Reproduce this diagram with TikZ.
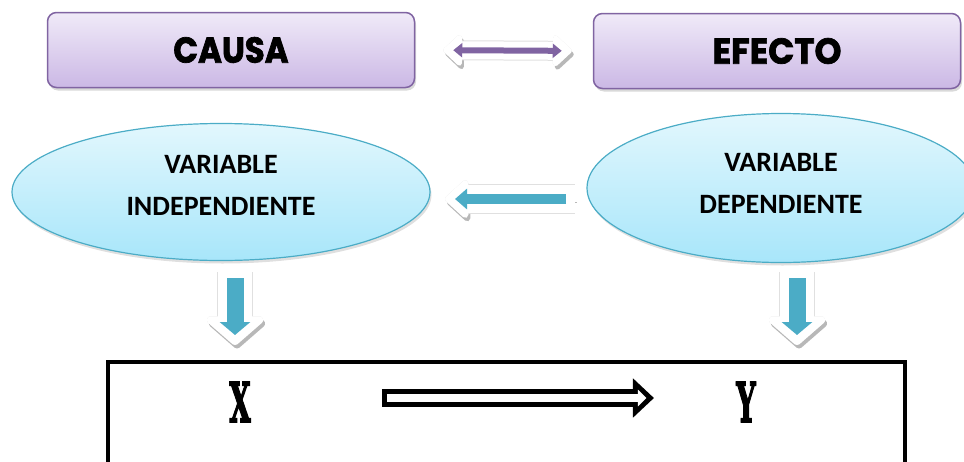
\documentclass[tikz,border=0pt]{standalone}
\usepackage{fontspec}
\usetikzlibrary{shapes.geometric,shadows,arrows.meta}
\newfontfamily\headfont{Poppins}[BoldFeatures={FakeBold=2}]
\newfontfamily\varfont{Carlito}
\newfontfamily\xyfont{DejaVu Serif}[BoldFeatures={FakeBold=3}]
\definecolor{lila}{HTML}{8064A2}
\definecolor{lilatop}{HTML}{F0EAF8}
\definecolor{lilabot}{HTML}{CBB8E5}
\definecolor{turq}{HTML}{4BACC6}
\definecolor{celtop}{HTML}{E2F7FD}
\definecolor{celbot}{HTML}{A8E6FA}

\tikzset{
  caja/.style={draw=lila, line width=1.5pt, rounded corners=9pt,
    top color=lilatop, bottom color=lilabot,
    minimum width=367pt, minimum height=75pt, inner sep=0pt,
    drop shadow={shadow xshift=1.5pt, shadow yshift=-3pt, opacity=.3},
    font=\headfont\bfseries\fontsize{36}{40}\selectfont},
  elipsevar/.style={ellipse, draw=turq, line width=1.2pt,
    top color=celtop, bottom color=celbot,
    minimum width=418pt, minimum height=137pt, inner sep=0pt, text depth=14pt,
    drop shadow={shadow xshift=1.5pt, shadow yshift=-3pt, opacity=.25},
    align=center, font=\varfont\bfseries\fontsize{28}{42}\selectfont},
  blanca/.style={white, line width=#1,
    preaction={draw=black!28, transform canvas={shift={(2pt,-3.5pt)}}},
    preaction={draw=black!12, line width=#1+2pt}},
  letra/.style={inner sep=0pt, font=\xyfont\bfseries\fontsize{55}{55}\selectfont}
}

\begin{document}
\begin{tikzpicture}[x=1pt, y=-1pt]
  \useasboundingbox (0,0) rectangle (964,461);
  \clip (0,0) rectangle (964,461);

  % causa y efecto
  \node[caja] (causa) at (231,50) {\scalebox{.9}[1]{CAUSA}};
  \node[caja] (efecto) at (777,51) {\scalebox{.95}[1]{EFECTO}};
  \draw[blanca=18pt, {Triangle[width=36pt,length=20pt,round]}-{Triangle[width=36pt,length=20pt,round]},
    shorten <=28pt, shorten >=21pt] (causa.east) -- (efecto.west);
  \draw[lila, line width=6pt, {Triangle[width=14pt,length=9pt]}-{Triangle[width=14pt,length=9pt]},
    shorten <=38pt, shorten >=31pt] (causa.east) -- (efecto.west);

  % variables
  \node[elipsevar] (vi) at (221,192) {VARIABLE\\INDEPENDIENTE};
  \node[elipsevar, minimum width=388pt, minimum height=149pt, text depth=10pt] (vd) at (781,188) {VARIABLE\\DEPENDIENTE};
  \coordinate (dini) at (575,199);
  \coordinate (dfin) at (445,199);
  \draw[blanca=28pt, -{Triangle[width=44pt,length=25pt,round]}] (dini) -- (dfin);
  \draw[turq, line width=10pt, -{Triangle[width=20pt,length=12pt]},
    shorten <=9pt, shorten >=10pt] (dini) -- (dfin);

  % flechas hacia abajo
  \foreach \n/\px in {a/235, b/797} {
    \coordinate (\n1) at (\px,272);
    \coordinate (\n2) at (\px,345);
    \draw[blanca=34pt, -{Triangle[width=67pt,length=30pt,round]}] (\n1) -- (\n2);
    \draw[turq, line width=17pt, -{Triangle[width=30pt,length=13pt]},
      shorten <=6pt, shorten >=10pt] (\n1) -- (\n2);
  }

  % modelo x -> y
  \node[draw, line width=4pt, minimum width=797pt, minimum height=138pt, inner sep=0pt] (modelo) at (506.5,431) {};
  \node[letra] (x) at (240,402) {\scalebox{.5}[1]{X}};
  \node[letra] (y) at (746,402) {\scalebox{.5}[1]{Y}};
  \draw[line width=18pt, -{Triangle[width=38pt,length=21pt]},
    shorten <=131pt, shorten >=82pt] ([yshift=4pt]x.east) -- ([yshift=4pt]y.west);
  \draw[white, line width=8pt, -{Triangle[width=16pt,length=8.5pt]},
    shorten <=136pt, shorten >=89.5pt] ([yshift=4pt]x.east) -- ([yshift=4pt]y.west);
\end{tikzpicture}
\end{document}
